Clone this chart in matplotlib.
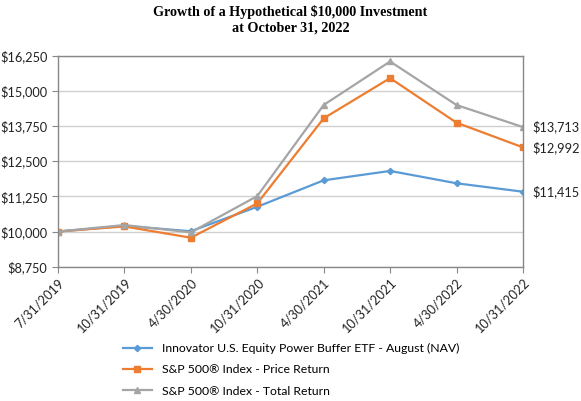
import matplotlib

matplotlib.use("Agg")

import matplotlib.pyplot as plt
from matplotlib.ticker import FuncFormatter

dates = ["7/31/2019", "10/31/2019", "4/30/2020", "10/31/2020",
         "4/30/2021", "10/31/2021", "4/30/2022", "10/31/2022"]
etf = [10000, 10200, 10010, 10880, 11820, 12154, 11715, 11415]
price_return = [10000, 10180, 9780, 11000, 14025, 15454, 13869, 12992]
total_return = [10000, 10230, 9970, 11260, 14500, 16046, 14498, 13713]

series_names = [
    "Innovator U.S. Equity Power Buffer ETF - August (NAV)",
    "S&P 500\u00ae Index - Price Return",
    "S&P 500\u00ae Index - Total Return",
]
y_ticks = [8750, 10000, 11250, 12500, 13750, 15000, 16250]

BLUE = "#5B9BD5"
ORANGE = "#ED7D31"
GRAY = "#A5A5A5"
FS = 8.8

plt.rcParams["font.family"] = ["Lato", "DejaVu Sans"]

fig = plt.figure(figsize=(5.81, 4.01), dpi=100)
ax = fig.add_axes([0.0998, 0.335, 0.8003, 0.526])

x = range(len(dates))
ax.plot(x, etf, color=BLUE, marker="D", markersize=3.2, linewidth=1.6, label=series_names[0])
ax.plot(x, price_return, color=ORANGE, marker="s", markersize=5, linewidth=1.6, label=series_names[1])
ax.plot(x, total_return, color=GRAY, marker="^", markersize=5, linewidth=1.6, label=series_names[2])

ax.set_xlim(0, len(dates) - 1)
ax.set_ylim(y_ticks[0], y_ticks[-1])
ax.set_yticks(y_ticks)
ax.yaxis.set_major_formatter(FuncFormatter(lambda v, _: f"${v:,.0f}"))
ax.set_xticks(list(x))
ax.set_xticklabels(dates, rotation=45, ha="right", rotation_mode="anchor")
ax.tick_params(axis="both", labelsize=FS + 0.4, colors="#222222", length=4, color="#888888")
ax.tick_params(axis="x", pad=3)

ax.grid(axis="y", color="#D0D0D0", linewidth=1.0)
ax.set_axisbelow(True)
for spine in ax.spines.values():
    spine.set_color("#888888")
    spine.set_linewidth(1.0)

last = len(dates) - 1
for vals in (etf, price_return, total_return):
    ax.annotate(f"${vals[-1]:,}", xy=(last, vals[-1]), xytext=(7, 0),
                textcoords="offset points", va="center", ha="left",
                fontsize=FS + 0.4, color="#222222", annotation_clip=False)

fig.text(0.5, 0.988, "Growth of a Hypothetical $10,000 Investment\nat October 31, 2022",
         ha="center", va="top", fontsize=10.2, fontweight="bold",
         family="Liberation Serif", linespacing=1.3)

handles, labels = ax.get_legend_handles_labels()
fig.legend(handles, labels, loc="upper left", bbox_to_anchor=(0.204, 0.157),
           frameon=False, fontsize=FS, handlelength=2.3, labelspacing=0.85,
           borderaxespad=0, handletextpad=0.85)

fig.savefig("out.png", dpi=100)
